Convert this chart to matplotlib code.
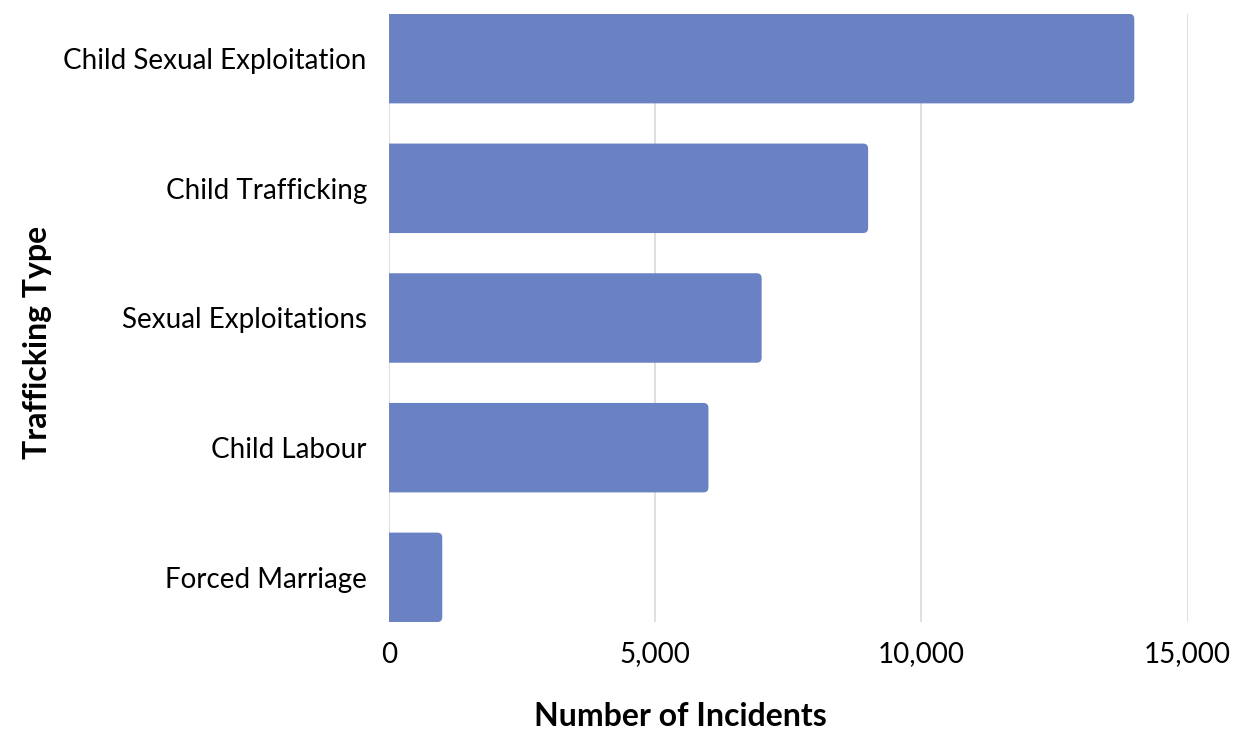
import matplotlib
matplotlib.use('Agg')
import matplotlib.pyplot as plt
from matplotlib.path import Path
from matplotlib.patches import PathPatch

# Data
types = ['Child Sexual Exploitation', 'Child Trafficking', 'Sexual Exploitations',
         'Child Labour', 'Forced Marriage']
incidents = [14000, 9000, 7000, 6000, 1000]
xticks = [0, 5000, 10000, 15000]
xtick_labels = ['0', '5,000', '10,000', '15,000']

bar_color = '#6a82c4'
plt.rcParams['font.family'] = ['Lato', 'DejaVu Sans']

fig = plt.figure(figsize=(12.37, 7.31), dpi=100)
ax = fig.add_axes([0.3145, 0.149, 0.6455, 0.832])

bars = ax.barh(types, incidents, height=0.69, color=bar_color)
ax.set_xlim(0, 15000)
ax.set_ylim(4.345, -0.345)

# rounded right ends (about 5 px radius), square left ends
rx = 5 * 15000 / (0.6455 * 1237)
ry = 5 * 4.69 / (0.832 * 731)
for b in bars:
    x, y, w, h = b.get_x(), b.get_y(), b.get_width(), b.get_height()
    b.set_visible(False)
    r = x + w
    verts = [(x, y), (r - rx, y), (r, y), (r, y + ry),
             (r, y + h - ry), (r, y + h), (r - rx, y + h),
             (x, y + h), (x, y)]
    codes = [Path.MOVETO, Path.LINETO, Path.CURVE3, Path.CURVE3,
             Path.LINETO, Path.CURVE3, Path.CURVE3,
             Path.LINETO, Path.CLOSEPOLY]
    ax.add_patch(PathPatch(Path(verts, codes), fc=bar_color, ec='none', zorder=2))

ax.set_xticks(xticks)
ax.set_xticklabels(xtick_labels)
ax.grid(axis='x', color='#d9d9d9', linewidth=1.2, zorder=0)
ax.set_axisbelow(True)
for s in ax.spines.values():
    s.set_visible(False)
ax.tick_params(length=0, labelsize=20, colors='black')
ax.tick_params(axis='x', pad=14)
ax.tick_params(axis='y', pad=16)

ax.set_xlabel('Number of Incidents', fontsize=23, fontweight='bold', va='center')
ax.xaxis.set_label_coords(0.365, -0.155)
ax.set_ylabel('Trafficking Type', fontsize=23, fontweight='bold', va='center', ha='center')
ax.yaxis.set_label_coords(-0.4405, 0.459)

fig.savefig('out.png', dpi=100)
